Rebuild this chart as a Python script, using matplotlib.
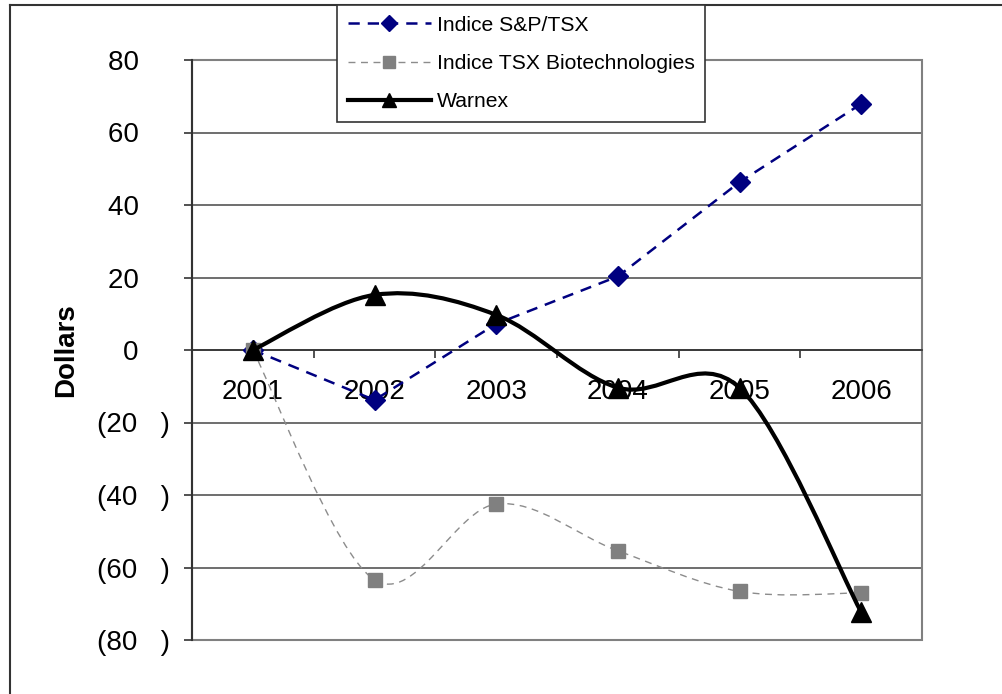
import matplotlib
matplotlib.use("Agg")
import matplotlib.pyplot as plt
import numpy as np
from matplotlib.path import Path
from matplotlib.patches import PathPatch, Rectangle
from matplotlib.lines import Line2D

plt.rcParams['font.family'] = ['Liberation Sans', 'DejaVu Sans']

years = ["2001", "2002", "2003", "2004", "2005", "2006"]
sp_tsx = [0, -13.8, 7.2, 20.3, 46.3, 67.9]
tsx_biotech = [0, -63.4, -42.5, -55.4, -66.6, -67.0]
warnex = [0, 15.2, 9.7, -10.4, -10.4, -72.3]

y_ticks = [80, 60, 40, 20, 0, -20, -40, -60, -80]
y_labels = ["80    ", "60    ", "40    ", "20    ", "0    ",
            "(20   )", "(40   )", "(60   )", "(80   )"]


def smooth_path(xs, ys):
    # Excel style smoothed line, cubic bezier through the points
    pts = np.column_stack([xs, ys]).astype(float)
    n = len(pts)
    verts = [pts[0]]
    codes = [Path.MOVETO]
    for i in range(n - 1):
        p0 = pts[max(i - 1, 0)]
        p1 = pts[i]
        p2 = pts[i + 1]
        p3 = pts[min(i + 2, n - 1)]
        verts += [p1 + (p2 - p0) / 6, p2 - (p3 - p1) / 6, p2]
        codes += [Path.CURVE4] * 3
    return Path(verts, codes)


fig = plt.figure(figsize=(10.02, 6.94), dpi=100)
ax = fig.add_axes([192 / 1002, 1 - 640 / 694, 730 / 1002, 580 / 694])

x = np.arange(len(years))

navy = '#000080'
grey = '#808080'

# S&P/TSX straight dashed
ax.plot(x, sp_tsx, color=navy, lw=1.8, dashes=(4.5, 3.2), marker='D',
        markersize=10, markerfacecolor=navy, markeredgecolor=navy, zorder=4)

# biotech smoothed thin dashed
ax.add_patch(PathPatch(smooth_path(x, tsx_biotech), fill=False,
                       edgecolor='#8c8c8c', lw=1.0, linestyle=(0, (5, 4)),
                       zorder=3))
ax.plot(x, tsx_biotech, linestyle='none', marker='s', markersize=10.5,
        color=grey, zorder=4)

# Warnex smoothed solid thick
ax.add_patch(PathPatch(smooth_path(x, warnex), fill=False,
                       edgecolor='black', lw=3.0, zorder=5))
ax.plot(x, warnex, linestyle='none', marker='^', markersize=15,
        color='black', zorder=6)

ax.set_xlim(-0.5, 5.5)
ax.set_ylim(-80, 80)

ax.set_yticks(y_ticks)
ax.set_yticklabels(y_labels)
ax.yaxis.grid(True, color='#555555', lw=1.2)
ax.set_axisbelow(True)

ax.set_xticks(x)
ax.set_xticklabels(years)
ax.set_xticks(np.arange(-0.5, 6.0, 1.0), minor=True)
ax.tick_params(axis='x', which='major', length=0, pad=21, labelsize=20)
ax.tick_params(axis='x', which='minor', direction='out', length=6,
               width=1.2, color='#333333')
ax.tick_params(axis='y', direction='out', length=6, width=1.2,
               color='#333333', pad=10, labelsize=20)

ax.spines['bottom'].set_position(('data', 0))
ax.spines['bottom'].set_color('#333333')
ax.spines['bottom'].set_linewidth(1.2)
ax.spines['left'].set_color('#333333')
ax.spines['left'].set_linewidth(1.5)
ax.spines['top'].set_visible(False)
ax.spines['right'].set_visible(False)
ax.add_patch(Rectangle((0, 0), 1, 1, transform=ax.transAxes, fill=False,
                       edgecolor=grey, lw=1.5, zorder=2, clip_on=False))

ax.set_ylabel("Dollars", fontsize=20, fontweight='bold')
ax.yaxis.set_label_coords(-0.154, 0.5)

# outer chart border (only left and top inside the picture)
fig.add_artist(Line2D([10 / 1002, 10 / 1002], [0, 1 - 5 / 694],
                      color='#333333', lw=1.5))
fig.add_artist(Line2D([10 / 1002, 1], [1 - 5 / 694, 1 - 5 / 694],
                      color='#333333', lw=1.5))

handles = [
    Line2D([], [], color=navy, lw=1.8, dashes=(4.5, 3.2), marker='D',
           markersize=8),
    Line2D([], [], color='#8c8c8c', lw=1.0, linestyle=(0, (5, 4)),
           marker='s', markersize=8, markerfacecolor=grey,
           markeredgecolor=grey),
    Line2D([], [], color='black', lw=3.0, marker='^', markersize=10),
]
leg = fig.legend(handles, ["Indice S&P/TSX", "Indice TSX Biotechnologies",
                           "Warnex"],
                 loc='upper left', bbox_to_anchor=(337 / 1002, 1 - 5 / 694),
                 fontsize=15.2, fancybox=False, framealpha=1,
                 edgecolor='#333333', borderaxespad=0, borderpad=0.5,
                 labelspacing=0.92, handlelength=3.93, handletextpad=0.3)
leg.get_frame().set_linewidth(1.2)
leg.set_zorder(10)

fig.savefig("out.png", dpi=100)
